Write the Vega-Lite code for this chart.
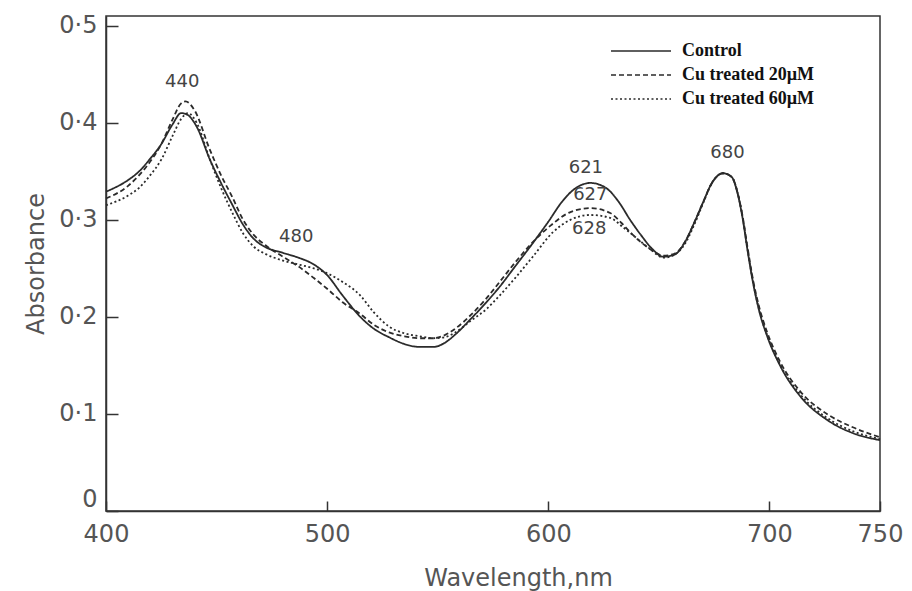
{
  "$schema": "https://vega.github.io/schema/vega-lite/v6.json",
  "width": 774,
  "height": 495,
  "autosize": {"type": "none"},
  "padding": {"left": 106, "top": 16, "right": 32, "bottom": 80},
  "background": "white",
  "config": {
    "view": {"stroke": "#333", "strokeWidth": 1.5},
    "axis": {
      "grid": false,
      "domainColor": "#333",
      "domainWidth": 1.5,
      "tickColor": "#333",
      "tickWidth": 1.5,
      "labelFont": "DejaVu Sans",
      "labelColor": "#555",
      "labelFontSize": 24,
      "titleFont": "DejaVu Sans",
      "titleColor": "#555",
      "titleFontSize": 24,
      "titleFontWeight": "normal",
      "labelFlush": false,
      "labelOverlap": false
    }
  },
  "datasets": {
    "curves": [
      {"series": "Control", "wl": 400, "abs": 0.329}, {"series": "Control", "wl": 410, "abs": 0.341}, {"series": "Control", "wl": 415, "abs": 0.350}, {"series": "Control", "wl": 420, "abs": 0.363}, {"series": "Control", "wl": 425, "abs": 0.378}, {"series": "Control", "wl": 430, "abs": 0.398}, {"series": "Control", "wl": 434, "abs": 0.410}, {"series": "Control", "wl": 437, "abs": 0.408}, {"series": "Control", "wl": 441, "abs": 0.396}, {"series": "Control", "wl": 447, "abs": 0.362}, {"series": "Control", "wl": 452, "abs": 0.338}, {"series": "Control", "wl": 457, "abs": 0.316}, {"series": "Control", "wl": 462, "abs": 0.295}, {"series": "Control", "wl": 467, "abs": 0.280}, {"series": "Control", "wl": 472, "abs": 0.272}, {"series": "Control", "wl": 480, "abs": 0.266}, {"series": "Control", "wl": 487, "abs": 0.261}, {"series": "Control", "wl": 494, "abs": 0.254}, {"series": "Control", "wl": 500, "abs": 0.243}, {"series": "Control", "wl": 507, "abs": 0.222}, {"series": "Control", "wl": 515, "abs": 0.200}, {"series": "Control", "wl": 521, "abs": 0.188}, {"series": "Control", "wl": 528, "abs": 0.179}, {"series": "Control", "wl": 535, "abs": 0.172}, {"series": "Control", "wl": 542, "abs": 0.169}, {"series": "Control", "wl": 548, "abs": 0.169}, {"series": "Control", "wl": 553, "abs": 0.173}, {"series": "Control", "wl": 558, "abs": 0.182}, {"series": "Control", "wl": 565, "abs": 0.198}, {"series": "Control", "wl": 572, "abs": 0.215}, {"series": "Control", "wl": 578, "abs": 0.231}, {"series": "Control", "wl": 585, "abs": 0.252}, {"series": "Control", "wl": 593, "abs": 0.276}, {"series": "Control", "wl": 600, "abs": 0.298}, {"series": "Control", "wl": 606, "abs": 0.318}, {"series": "Control", "wl": 612, "abs": 0.332}, {"series": "Control", "wl": 619, "abs": 0.338}, {"series": "Control", "wl": 626, "abs": 0.333}, {"series": "Control", "wl": 632, "abs": 0.318}, {"series": "Control", "wl": 637, "abs": 0.300}, {"series": "Control", "wl": 642, "abs": 0.284}, {"series": "Control", "wl": 647, "abs": 0.270}, {"series": "Control", "wl": 652, "abs": 0.262}, {"series": "Control", "wl": 657, "abs": 0.264}, {"series": "Control", "wl": 662, "abs": 0.278}, {"series": "Control", "wl": 666, "abs": 0.297}, {"series": "Control", "wl": 670, "abs": 0.318}, {"series": "Control", "wl": 674, "abs": 0.338}, {"series": "Control", "wl": 679, "abs": 0.348}, {"series": "Control", "wl": 683, "abs": 0.344}, {"series": "Control", "wl": 685.5, "abs": 0.328}, {"series": "Control", "wl": 688, "abs": 0.300}, {"series": "Control", "wl": 690, "abs": 0.270}, {"series": "Control", "wl": 692.6, "abs": 0.235}, {"series": "Control", "wl": 695.5, "abs": 0.205}, {"series": "Control", "wl": 699, "abs": 0.180}, {"series": "Control", "wl": 705, "abs": 0.149}, {"series": "Control", "wl": 714, "abs": 0.118}, {"series": "Control", "wl": 726, "abs": 0.094}, {"series": "Control", "wl": 738, "abs": 0.080}, {"series": "Control", "wl": 750, "abs": 0.073},

      {"series": "Cu treated 20µM", "wl": 400, "abs": 0.322}, {"series": "Cu treated 20µM", "wl": 410, "abs": 0.335}, {"series": "Cu treated 20µM", "wl": 415, "abs": 0.346}, {"series": "Cu treated 20µM", "wl": 420, "abs": 0.360}, {"series": "Cu treated 20µM", "wl": 425, "abs": 0.378}, {"series": "Cu treated 20µM", "wl": 430, "abs": 0.403}, {"series": "Cu treated 20µM", "wl": 434, "abs": 0.420}, {"series": "Cu treated 20µM", "wl": 436, "abs": 0.422}, {"series": "Cu treated 20µM", "wl": 440, "abs": 0.413}, {"series": "Cu treated 20µM", "wl": 447, "abs": 0.372}, {"series": "Cu treated 20µM", "wl": 452, "abs": 0.346}, {"series": "Cu treated 20µM", "wl": 457, "abs": 0.324}, {"series": "Cu treated 20µM", "wl": 462, "abs": 0.300}, {"series": "Cu treated 20µM", "wl": 467, "abs": 0.284}, {"series": "Cu treated 20µM", "wl": 472, "abs": 0.274}, {"series": "Cu treated 20µM", "wl": 480, "abs": 0.262}, {"series": "Cu treated 20µM", "wl": 487, "abs": 0.252}, {"series": "Cu treated 20µM", "wl": 494, "abs": 0.240}, {"series": "Cu treated 20µM", "wl": 500, "abs": 0.229}, {"series": "Cu treated 20µM", "wl": 507, "abs": 0.215}, {"series": "Cu treated 20µM", "wl": 515, "abs": 0.203}, {"series": "Cu treated 20µM", "wl": 521, "abs": 0.192}, {"series": "Cu treated 20µM", "wl": 528, "abs": 0.184}, {"series": "Cu treated 20µM", "wl": 535, "abs": 0.180}, {"series": "Cu treated 20µM", "wl": 542, "abs": 0.178}, {"series": "Cu treated 20µM", "wl": 548, "abs": 0.178}, {"series": "Cu treated 20µM", "wl": 553, "abs": 0.181}, {"series": "Cu treated 20µM", "wl": 558, "abs": 0.188}, {"series": "Cu treated 20µM", "wl": 565, "abs": 0.202}, {"series": "Cu treated 20µM", "wl": 572, "abs": 0.219}, {"series": "Cu treated 20µM", "wl": 578, "abs": 0.236}, {"series": "Cu treated 20µM", "wl": 585, "abs": 0.256}, {"series": "Cu treated 20µM", "wl": 593, "abs": 0.277}, {"series": "Cu treated 20µM", "wl": 601, "abs": 0.294}, {"series": "Cu treated 20µM", "wl": 610, "abs": 0.308}, {"series": "Cu treated 20µM", "wl": 619, "abs": 0.312}, {"series": "Cu treated 20µM", "wl": 628, "abs": 0.307}, {"series": "Cu treated 20µM", "wl": 633, "abs": 0.297}, {"series": "Cu treated 20µM", "wl": 638, "abs": 0.285}, {"series": "Cu treated 20µM", "wl": 643, "abs": 0.275}, {"series": "Cu treated 20µM", "wl": 648, "abs": 0.267}, {"series": "Cu treated 20µM", "wl": 652, "abs": 0.263}, {"series": "Cu treated 20µM", "wl": 657, "abs": 0.265}, {"series": "Cu treated 20µM", "wl": 662, "abs": 0.278}, {"series": "Cu treated 20µM", "wl": 666, "abs": 0.297}, {"series": "Cu treated 20µM", "wl": 670, "abs": 0.318}, {"series": "Cu treated 20µM", "wl": 674, "abs": 0.338}, {"series": "Cu treated 20µM", "wl": 679, "abs": 0.348}, {"series": "Cu treated 20µM", "wl": 683, "abs": 0.344}, {"series": "Cu treated 20µM", "wl": 685.5, "abs": 0.329}, {"series": "Cu treated 20µM", "wl": 688, "abs": 0.302}, {"series": "Cu treated 20µM", "wl": 690, "abs": 0.273}, {"series": "Cu treated 20µM", "wl": 692.6, "abs": 0.238}, {"series": "Cu treated 20µM", "wl": 695.5, "abs": 0.209}, {"series": "Cu treated 20µM", "wl": 699, "abs": 0.184}, {"series": "Cu treated 20µM", "wl": 705, "abs": 0.153}, {"series": "Cu treated 20µM", "wl": 714, "abs": 0.123}, {"series": "Cu treated 20µM", "wl": 726, "abs": 0.100}, {"series": "Cu treated 20µM", "wl": 738, "abs": 0.086}, {"series": "Cu treated 20µM", "wl": 750, "abs": 0.076},

      {"series": "Cu treated 60µM", "wl": 400, "abs": 0.315}, {"series": "Cu treated 60µM", "wl": 410, "abs": 0.325}, {"series": "Cu treated 60µM", "wl": 415, "abs": 0.333}, {"series": "Cu treated 60µM", "wl": 420, "abs": 0.346}, {"series": "Cu treated 60µM", "wl": 425, "abs": 0.362}, {"series": "Cu treated 60µM", "wl": 430, "abs": 0.386}, {"series": "Cu treated 60µM", "wl": 434, "abs": 0.404}, {"series": "Cu treated 60µM", "wl": 437, "abs": 0.410}, {"series": "Cu treated 60µM", "wl": 441, "abs": 0.400}, {"series": "Cu treated 60µM", "wl": 447, "abs": 0.362}, {"series": "Cu treated 60µM", "wl": 452, "abs": 0.333}, {"series": "Cu treated 60µM", "wl": 457, "abs": 0.308}, {"series": "Cu treated 60µM", "wl": 462, "abs": 0.286}, {"series": "Cu treated 60µM", "wl": 467, "abs": 0.272}, {"series": "Cu treated 60µM", "wl": 472, "abs": 0.265}, {"series": "Cu treated 60µM", "wl": 480, "abs": 0.258}, {"series": "Cu treated 60µM", "wl": 487, "abs": 0.254}, {"series": "Cu treated 60µM", "wl": 494, "abs": 0.250}, {"series": "Cu treated 60µM", "wl": 500, "abs": 0.245}, {"series": "Cu treated 60µM", "wl": 507, "abs": 0.236}, {"series": "Cu treated 60µM", "wl": 515, "abs": 0.222}, {"series": "Cu treated 60µM", "wl": 521, "abs": 0.205}, {"series": "Cu treated 60µM", "wl": 528, "abs": 0.190}, {"series": "Cu treated 60µM", "wl": 535, "abs": 0.183}, {"series": "Cu treated 60µM", "wl": 542, "abs": 0.180}, {"series": "Cu treated 60µM", "wl": 548, "abs": 0.178}, {"series": "Cu treated 60µM", "wl": 553, "abs": 0.179}, {"series": "Cu treated 60µM", "wl": 558, "abs": 0.184}, {"series": "Cu treated 60µM", "wl": 565, "abs": 0.196}, {"series": "Cu treated 60µM", "wl": 572, "abs": 0.208}, {"series": "Cu treated 60µM", "wl": 578, "abs": 0.222}, {"series": "Cu treated 60µM", "wl": 585, "abs": 0.240}, {"series": "Cu treated 60µM", "wl": 593, "abs": 0.262}, {"series": "Cu treated 60µM", "wl": 602, "abs": 0.287}, {"series": "Cu treated 60µM", "wl": 610, "abs": 0.300}, {"series": "Cu treated 60µM", "wl": 619, "abs": 0.305}, {"series": "Cu treated 60µM", "wl": 628, "abs": 0.302}, {"series": "Cu treated 60µM", "wl": 634, "abs": 0.292}, {"series": "Cu treated 60µM", "wl": 640, "abs": 0.281}, {"series": "Cu treated 60µM", "wl": 646, "abs": 0.270}, {"series": "Cu treated 60µM", "wl": 652, "abs": 0.261}, {"series": "Cu treated 60µM", "wl": 657, "abs": 0.264}, {"series": "Cu treated 60µM", "wl": 662, "abs": 0.276}, {"series": "Cu treated 60µM", "wl": 666, "abs": 0.295}, {"series": "Cu treated 60µM", "wl": 670, "abs": 0.317}, {"series": "Cu treated 60µM", "wl": 674, "abs": 0.338}, {"series": "Cu treated 60µM", "wl": 679, "abs": 0.348}, {"series": "Cu treated 60µM", "wl": 683, "abs": 0.344}, {"series": "Cu treated 60µM", "wl": 685.5, "abs": 0.329}, {"series": "Cu treated 60µM", "wl": 688, "abs": 0.301}, {"series": "Cu treated 60µM", "wl": 690, "abs": 0.271}, {"series": "Cu treated 60µM", "wl": 692.6, "abs": 0.236}, {"series": "Cu treated 60µM", "wl": 695.5, "abs": 0.206}, {"series": "Cu treated 60µM", "wl": 699, "abs": 0.181}, {"series": "Cu treated 60µM", "wl": 705, "abs": 0.150}, {"series": "Cu treated 60µM", "wl": 714, "abs": 0.120}, {"series": "Cu treated 60µM", "wl": 726, "abs": 0.096}, {"series": "Cu treated 60µM", "wl": 738, "abs": 0.082}, {"series": "Cu treated 60µM", "wl": 750, "abs": 0.074}
    ],
    "peaks": [
      {"label": "440", "wl": 434.5, "abs": 0.442},
      {"label": "480", "wl": 486, "abs": 0.282},
      {"label": "621", "wl": 617, "abs": 0.353},
      {"label": "627", "wl": 619, "abs": 0.326},
      {"label": "628", "wl": 618.5, "abs": 0.291},
      {"label": "680", "wl": 681, "abs": 0.369}
    ]
  },
  "layer": [
    {
      "data": {"name": "curves"},
      "mark": {"type": "line", "interpolate": "monotone", "strokeWidth": 1.8, "color": "#2b2b2b"},
      "encoding": {
        "x": {
          "field": "wl", "type": "quantitative",
          "scale": {"domain": [400, 750], "nice": false, "zero": false},
          "axis": {"values": [400, 500, 600, 700, 750], "tickSize": -10, "labelPadding": 21, "title": "Wavelength,nm", "titlePadding": 20, "titleX": 412}
        },
        "y": {
          "field": "abs", "type": "quantitative",
          "scale": {"domain": [0, 0.51], "nice": false},
          "axis": {"values": [0, 0.1, 0.2, 0.3, 0.4, 0.5], "tickSize": -12, "labelPadding": 21,
                   "labelExpr": "datum.value == 0 ? '0' : replace(format(datum.value, '.1f'), '.', '·')",
                   "labelBaseline": {"condition": {"test": "datum.value == 0", "value": "bottom"}, "value": "middle"},
                   "title": "Absorbance", "titlePadding": 10}
        },
        "strokeDash": {
          "field": "series", "type": "nominal",
          "scale": {"domain": ["Control", "Cu treated 20µM", "Cu treated 60µM"], "range": [[1, 0], [5, 3], [2, 2.5]]},
          "legend": {
            "orient": "none", "legendX": 526, "legendY": 26, "title": null, "padding": 0,
            "symbolType": "M-6,0H6", "symbolSize": 100, "symbolStrokeWidth": 1.3,
            "symbolStrokeColor": "#2b2b2b", "symbolFillColor": "transparent",
            "labelFont": "Liberation Serif", "labelFontWeight": "bold", "labelFontSize": 18,
            "labelColor": "#111", "labelOffset": 32, "rowPadding": 6
          }
        }
      }
    },
    {
      "data": {"name": "peaks"},
      "mark": {"type": "text", "font": "DejaVu Sans", "fontSize": 18, "color": "#444", "align": "center", "baseline": "middle"},
      "encoding": {
        "x": {"field": "wl", "type": "quantitative"},
        "y": {"field": "abs", "type": "quantitative"},
        "text": {"field": "label"}
      }
    }
  ]
}
